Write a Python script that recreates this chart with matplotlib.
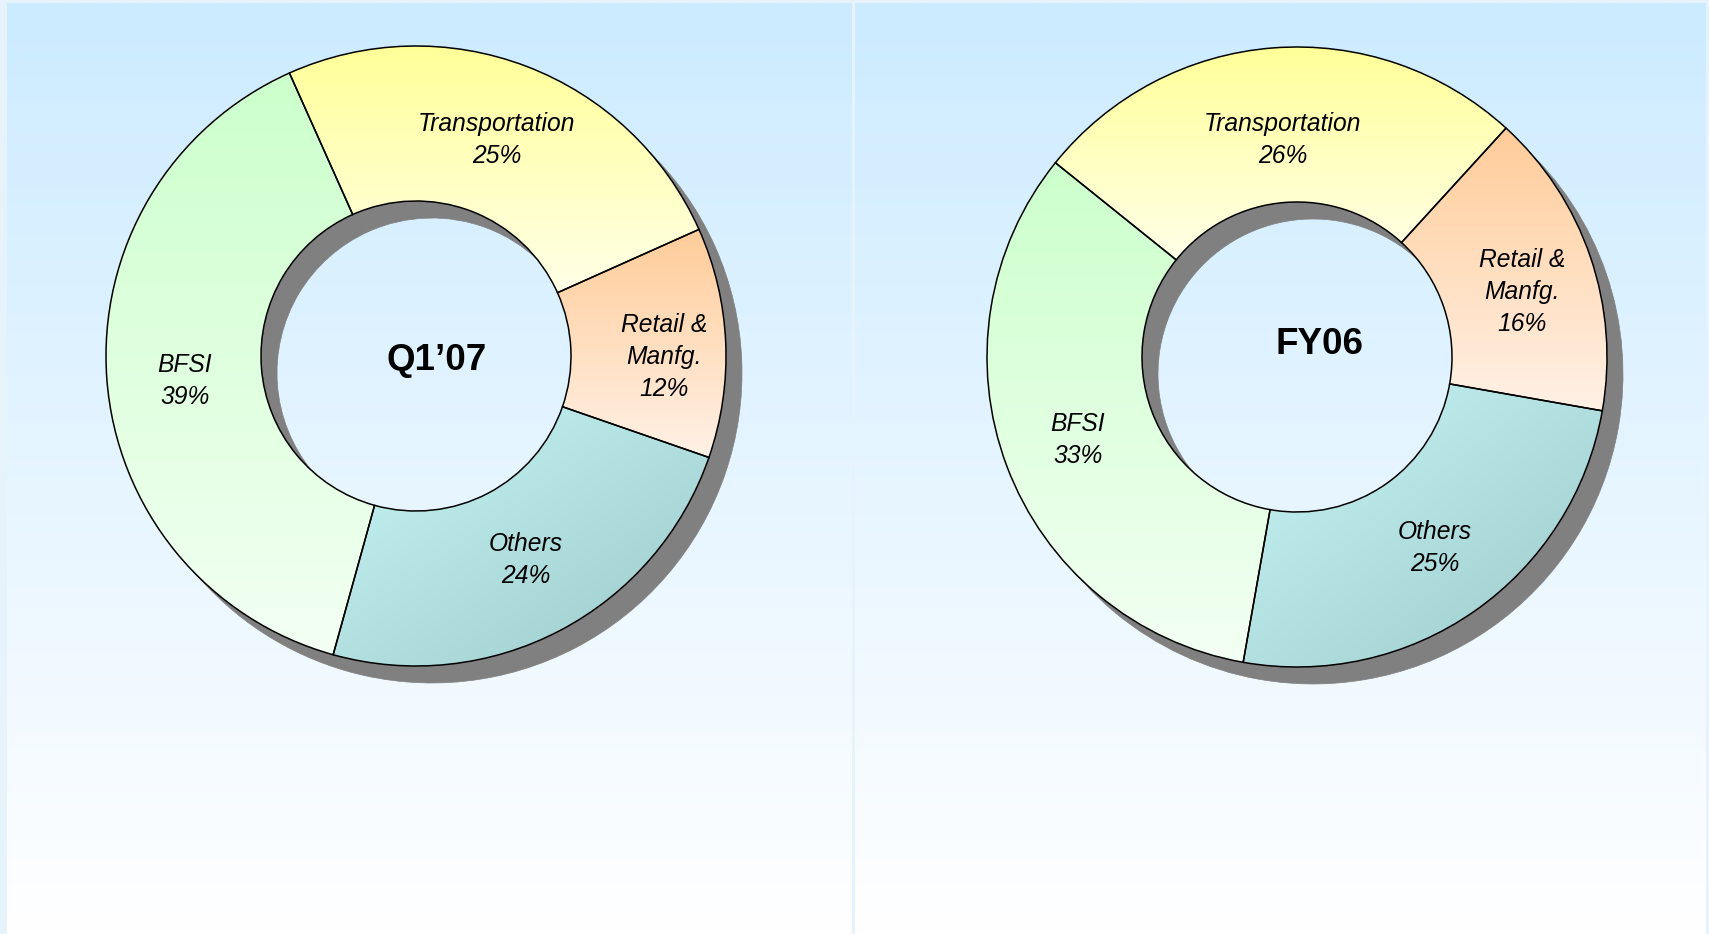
import numpy as np
import matplotlib.pyplot as plt
from matplotlib.colors import to_rgb

W, H = 1709, 934

segments = ['BFSI', 'Transportation', 'Retail &\nManfg.', 'Others']
q107_share = [39, 25, 12, 24]
fy06_share = [33, 26, 16, 25]
chart_titles = ['Q1\u201907', 'FY06']

# (top colour, bottom colour) of each slice gradient
slice_colors = [('#CCFFCC', '#F3FFF3'),
                ('#FFFF99', '#FFFFE8'),
                ('#FFCC99', '#FFF1E6'),
                ('#C8F7F7', '#9CC8C8')]

# layout, in pixels from the top left corner
centers = [(416, 356), (1297, 357)]
start_angles = [254.5, 260]
radius = 310
shadow_dx, shadow_dy = 16, 17
title_pos = [(437, 360), (1320, 344)]
label_pos = [
    [(185, 381), (497, 140), (664, 357), (526, 560)],
    [(1078, 440), (1283, 140), (1522, 292), (1435, 548)],
]
panels = [(7, 852), (855, 1706)]

plt.rcParams['font.family'] = ['Liberation Sans', 'DejaVu Sans']


def gradient(c_top, c_bottom, diagonal=False, n=200):
    t = np.linspace(0, 1, n)
    if diagonal:
        tt = (t[:, None] + t[None, :]) / 2
    else:
        tt = np.repeat(t[:, None], n, axis=1)
    c0 = np.array(to_rgb(c_top))
    c1 = np.array(to_rgb(c_bottom))
    return c0 + tt[..., None] * (c1 - c0)


fig = plt.figure(figsize=(W / 100, H / 100), dpi=100)
fig.patch.set_facecolor('#E6F3FA')
ax = fig.add_axes([0, 0, 1, 1])

# background panels
for x0, x1 in panels:
    ax.imshow(gradient('#CCEBFF', '#FFFFFF'), extent=(x0, x1, 0, H - 3),
              origin='upper', aspect='auto', zorder=0, interpolation='bilinear')

for k, shares in enumerate([q107_share, fy06_share]):
    cx, cy = centers[k]
    cy = H - cy
    # shadow ring
    ax.pie(shares, center=(cx + shadow_dx, cy - shadow_dy), radius=radius,
           startangle=start_angles[k], counterclock=False, frame=True,
           wedgeprops=dict(width=radius * 0.5, facecolor='#808080',
                           edgecolor='#808080', linewidth=0.5, zorder=1))
    wedges, _ = ax.pie(shares, center=(cx, cy), radius=radius,
                       startangle=start_angles[k], counterclock=False, frame=True,
                       wedgeprops=dict(width=radius * 0.5, facecolor='none',
                                       edgecolor='black', linewidth=1.1, zorder=3))
    for i, w in enumerate(wedges):
        ext = w.get_path().get_extents()
        img = gradient(*slice_colors[i], diagonal=(i == 3))
        im = ax.imshow(img, extent=(ext.x0, ext.x1, ext.y0, ext.y1), origin='upper',
                       aspect='auto', zorder=2, interpolation='bilinear')
        im.set_clip_path(w)

        lx, ly = label_pos[k][i]
        ax.text(lx, H - ly, f'{segments[i]}\n{shares[i]}%', ha='center', va='center',
                multialignment='center', fontsize=17.7, style='italic',
                linespacing=1.4, zorder=5)

    tx, ty = title_pos[k]
    ax.text(tx, H - ty, chart_titles[k], ha='center', va='center', fontsize=26.5,
            fontweight='bold', zorder=5)

ax.set_xlim(0, W)
ax.set_ylim(0, H)
ax.set_aspect('auto')
ax.axis('off')

fig.savefig('out.png', dpi=100, facecolor=fig.get_facecolor())
